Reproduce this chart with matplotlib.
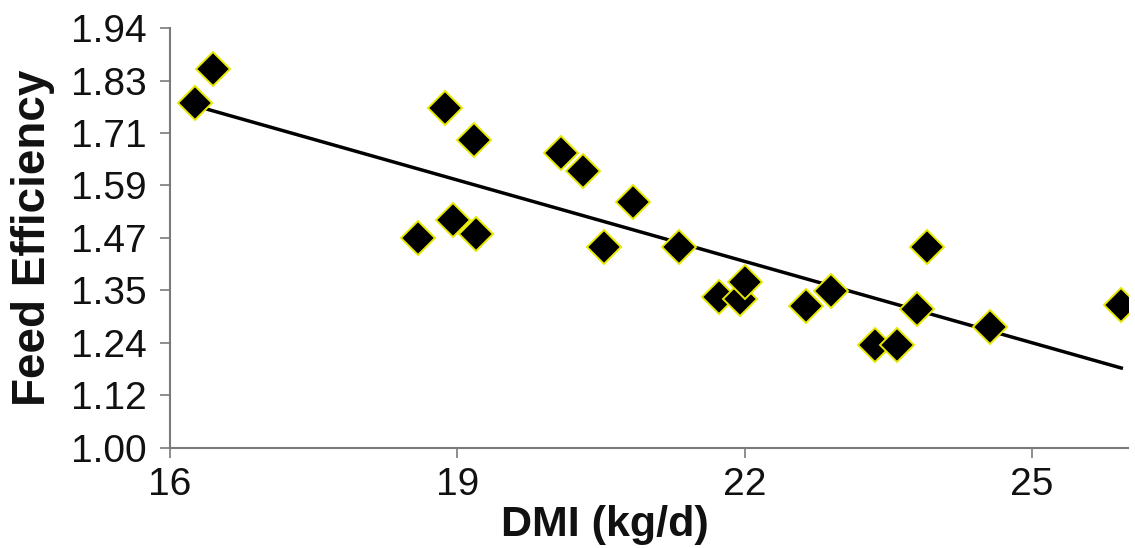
import matplotlib
matplotlib.use("Agg")
import matplotlib.pyplot as plt
import numpy as np

# DMI (kg/d) vs feed efficiency
dmi = [16.26, 16.45, 18.87, 19.17, 18.59, 18.95, 19.19, 20.08, 20.31, 20.83,
       20.53, 21.31, 21.73, 21.95, 22.00, 22.64, 22.90, 23.36, 23.59, 23.80,
       23.90, 24.56, 25.93]
fe = [1.772, 1.848, 1.761, 1.689, 1.470, 1.510, 1.479, 1.660, 1.620, 1.551,
      1.450, 1.450, 1.338, 1.333, 1.372, 1.318, 1.351, 1.230, 1.230, 1.311,
      1.450, 1.271, 1.320]

# regression line end points
trend_x = [16.31, 25.93]
trend_y = [1.763, 1.179]

x_ticks = [16, 19, 22, 25]
y_labels = ["1.00", "1.12", "1.24", "1.35", "1.47", "1.59", "1.71", "1.83", "1.94"]

plt.rcParams['font.family'] = ['Liberation Sans', 'DejaVu Sans']

fig = plt.figure(figsize=(11.35, 5.48), dpi=100)
ax = fig.add_axes([0.1498, 0.1825, 0.8440, 0.7664])

ax.plot(trend_x, trend_y, color='black', lw=2.5, zorder=2)
ax.plot(dmi, fe, linestyle='none', marker='D', markersize=17.5,
        markerfacecolor='black', markeredgecolor='#e8e800',
        markeredgewidth=1.4, zorder=3)

ax.set_xlim(16, 26)
ax.set_ylim(1.00, 1.94)
ax.set_xticks(x_ticks)
ax.set_yticks(np.linspace(1.00, 1.94, len(y_labels)))
ax.set_yticklabels(y_labels)

for s in ['top', 'right']:
    ax.spines[s].set_visible(False)
for s in ['left', 'bottom']:
    ax.spines[s].set_color('#7a7a7a')
    ax.spines[s].set_linewidth(1.5)

ax.tick_params(axis='both', direction='out', length=7, width=1.2,
               color='#7a7a7a', labelsize=28, labelcolor='#111111')
ax.tick_params(axis='y', pad=10)
ax.tick_params(axis='x', pad=7)

ax.set_xlabel('DMI (kg/d)', fontsize=31, fontweight='bold', color='#111111')
ax.set_ylabel('Feed Efficiency', fontsize=33, fontweight='bold', color='#111111')
ax.xaxis.set_label_coords(0.454, -0.135)
ax.yaxis.set_label_coords(-0.12, 0.5)

fig.savefig('out.png', dpi=100, facecolor='white')
